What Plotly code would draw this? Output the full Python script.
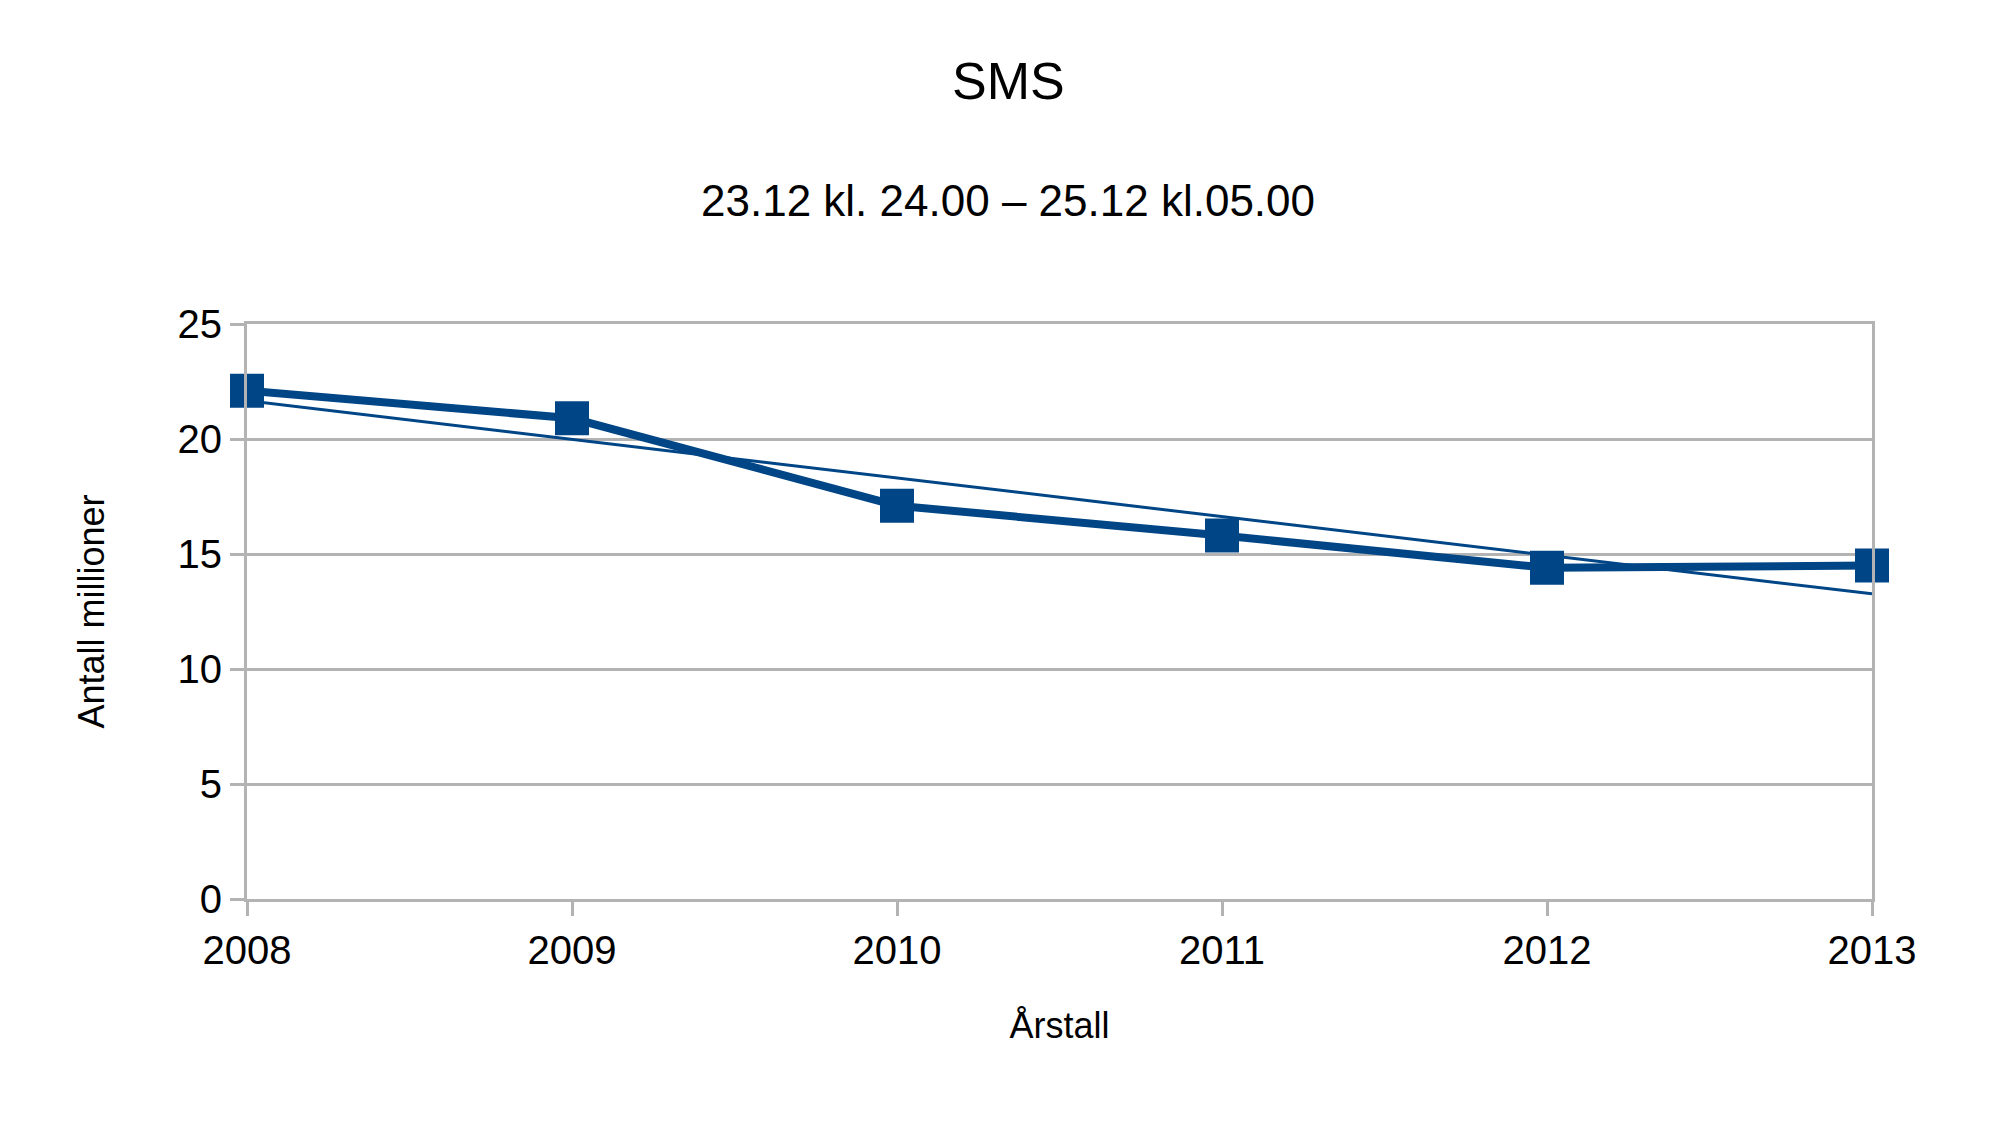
import numpy as np
import plotly.graph_objects as go

years = [2008, 2009, 2010, 2011, 2012, 2013]
sms = [22.1, 20.9, 17.1, 15.8, 14.4, 14.5]

coef = np.polyfit(years, sms, 1)
trend = np.polyval(coef, years)

C = "#004586"
L, R = 239, 136
fig = go.Figure()
fig.add_trace(go.Scatter(x=years, y=trend, mode="lines", line=dict(color=C, width=3), showlegend=False))
fig.add_trace(go.Scatter(x=years, y=sms, mode="lines+markers", line=dict(color=C, width=8),
                         marker=dict(symbol="square", size=34, color=C), showlegend=False, cliponaxis=False))
F = "Liberation Sans, Arial, sans-serif"
fig.update_layout(
    width=2000, height=1124, plot_bgcolor="white", paper_bgcolor="white",
    margin=dict(l=L, r=R, t=316, b=233),
    font=dict(family=F, color="black", size=40),
)
cx = (1000 - L) / (2000 - L - R)
fig.add_annotation(text="SMS", xref="paper", yref="paper", x=cx, y=1, yshift=243, showarrow=False,
                   font=dict(size=52), xanchor="center", yanchor="middle")
fig.add_annotation(text="23.12 kl. 24.00 – 25.12 kl.05.00", xref="paper", yref="paper", x=cx, y=1, yshift=124,
                   showarrow=False, font=dict(size=44), xanchor="center", yanchor="middle")
fig.update_xaxes(range=[2008, 2013], tickvals=years, showgrid=False, showline=True, linecolor="#b3b3b3",
                 linewidth=3, mirror=True, ticks="outside", ticklen=14, tickwidth=3, tickcolor="#b3b3b3",
                 title=dict(text="Årstall", standoff=42, font=dict(size=36)), zeroline=False)
fig.update_yaxes(range=[0, 25], dtick=5, showgrid=True, gridcolor="#b3b3b3", gridwidth=3, showline=True,
                 linecolor="#b3b3b3", linewidth=3, mirror=True, ticks="outside", ticklen=14, tickwidth=3,
                 tickcolor="#b3b3b3", title=dict(text="Antall millioner", standoff=62, font=dict(size=36)),
                 zeroline=False)
fig.write_html("out.html")
